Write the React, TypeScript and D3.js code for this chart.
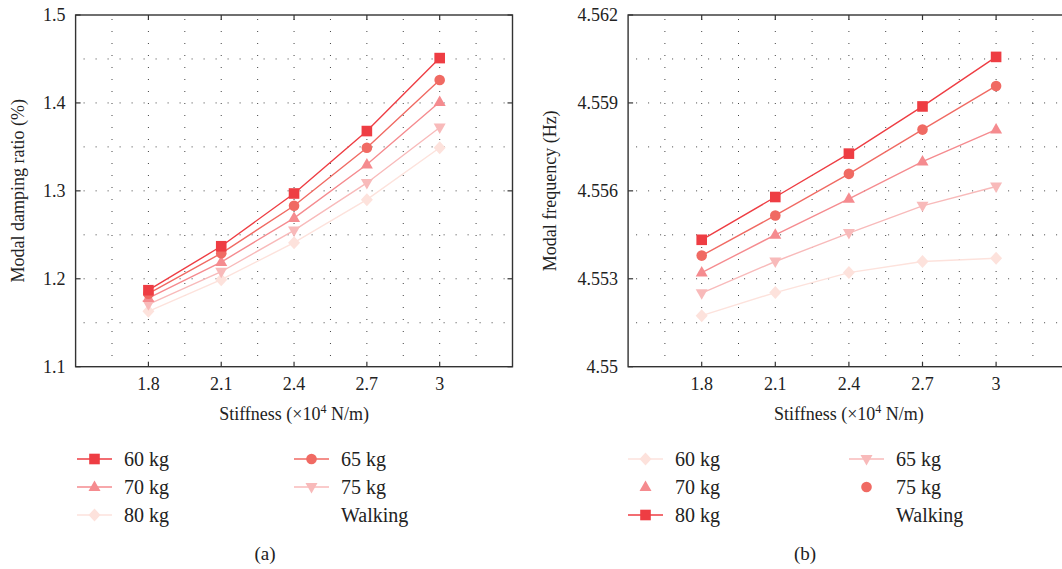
import React from "react";
import * as d3 from "d3";

const stiffness = [1.8, 2.1, 2.4, 2.7, 3];
const xTicks = [1.8, 2.1, 2.4, 2.7, 3];

// Panel (a): modal damping ratio (%)
const dampingTicks = [1.1, 1.2, 1.3, 1.4, 1.5];
const damping60 = [1.187, 1.237, 1.297, 1.368, 1.451];
const damping65 = [1.183, 1.229, 1.283, 1.349, 1.426];
const damping70 = [1.178, 1.219, 1.269, 1.33, 1.401];
const damping75 = [1.171, 1.208, 1.255, 1.309, 1.372];
const damping80 = [1.163, 1.199, 1.241, 1.29, 1.349];

// Panel (b): modal frequency (Hz)
const freqTicks = [4.55, 4.553, 4.556, 4.559, 4.562];
const freqTickLabels = ["4.55", "4.553", "4.556", "4.559", "4.562"];
const freqSquare = [4.55433, 4.55579, 4.55727, 4.55888, 4.56057];
const freqCircle = [4.55379, 4.55516, 4.55658, 4.55809, 4.55958];
const freqUp = [4.55321, 4.5545, 4.55573, 4.557, 4.55809];
const freqDown = [4.55251, 4.55359, 4.55456, 4.55549, 4.55615];
const freqDiamond = [4.55174, 4.55253, 4.55321, 4.55359, 4.5537];

const C_SQ = "#ee3d43";
const C_CI = "#f06a63";
const C_UP = "#f58b8f";
const C_DN = "#f8baba";
const C_DI = "#fde2dc";

type Shape = "square" | "circle" | "up" | "down" | "diamond";

const FONT = "'Liberation Serif', 'Times New Roman', serif";

function Marker({ shape, x, y, color }: { shape: Shape; x: number; y: number; color: string }) {
  const s = 5.3;
  if (shape === "square") return <rect x={x - s} y={y - s} width={2 * s} height={2 * s} fill={color} />;
  if (shape === "circle") return <circle cx={x} cy={y} r={5.3} fill={color} />;
  if (shape === "up")
    return <path d={`M${x},${y - 6.5}L${x + 6},${y + 4}L${x - 6},${y + 4}Z`} fill={color} />;
  if (shape === "down")
    return <path d={`M${x},${y + 6.5}L${x + 6},${y - 4}L${x - 6},${y - 4}Z`} fill={color} />;
  return <path d={`M${x},${y - 6.5}L${x + 6},${y}L${x},${y + 6.5}L${x - 6},${y}Z`} fill={color} />;
}

type Series = { values: number[]; shape: Shape; color: string };

function Panel({
  x0, x1, yDomain, yTicks, yTickLabels, series, yTitle, clipRight, titleOffset,
}: {
  x0: number; x1: number; yDomain: [number, number]; yTicks: number[]; yTickLabels: string[];
  series: Series[]; yTitle: string; clipRight: number; titleOffset: number;
}) {
  const top = 15, bottom = 366.7;
  const x = d3.scaleLinear().domain([1.5, 3.3]).range([x0, x1]);
  const y = d3.scaleLinear().domain(yDomain).range([bottom, top]);
  const line = d3.line<number>().x((_, i) => x(stiffness[i])).y((v) => y(v));
  const vGrid = d3.range(1.65, 3.3, 0.15);
  const step = (yDomain[1] - yDomain[0]) / 8;
  const hGrid = d3.range(1, 8).map((i) => yDomain[0] + i * step);
  const right = Math.min(x1, clipRight);
  return (
    <g>
      {vGrid.map((g, i) => (
        <line key={"v" + i} x1={x(g)} x2={x(g)} y1={top + 4} y2={bottom} stroke="#444" strokeWidth={1}
          strokeDasharray="1,11" />
      ))}
      {hGrid.map((g, i) => (
        <line key={"h" + i} x1={x0 + 8} x2={right} y1={y(g)} y2={y(g)} stroke="#444" strokeWidth={1}
          strokeDasharray="1,11" />
      ))}
      {series.map((s, i) => (
        <path key={"l" + i} d={line(s.values) || ""} fill="none" stroke={s.color} strokeWidth={1.4} />
      ))}
      {series.map((s, i) => (
        <g key={"m" + i}>
          {s.values.map((v, j) => (
            <Marker key={j} shape={s.shape} x={x(stiffness[j])} y={y(v)} color={s.color} />
          ))}
        </g>
      ))}
      <rect x={x0} y={top} width={x1 - x0} height={bottom - top} fill="none" stroke="#333" strokeWidth={1.4} />
      {xTicks.map((t) => (
        <g key={"xt" + t}>
          <line x1={x(t)} x2={x(t)} y1={bottom} y2={bottom - 5} stroke="#333" strokeWidth={1.2} />
          <line x1={x(t)} x2={x(t)} y1={top} y2={top + 5} stroke="#333" strokeWidth={1.2} />
          <text x={x(t)} y={bottom + 23} textAnchor="middle" fontSize={18} fill="#222">{String(t)}</text>
        </g>
      ))}
      {yTicks.map((t, i) => (
        <g key={"yt" + i}>
          <line x1={x0} x2={x0 + 5} y1={y(t)} y2={y(t)} stroke="#333" strokeWidth={1.2} />
          <line x1={x1} x2={x1 - 5} y1={y(t)} y2={y(t)} stroke="#333" strokeWidth={1.2} />
          <text x={x0 - 10} y={y(t) + 6} textAnchor="end" fontSize={18} fill="#222">{yTickLabels[i]}</text>
        </g>
      ))}
      <text x={x(2.4)} y={420} textAnchor="middle" fontSize={18} fill="#222">
        Stiffness (×10<tspan fontSize={12} dy={-7}>4</tspan><tspan dy={7}> N/m)</tspan>
      </text>
      <text transform={`translate(${x0 - titleOffset},${(top + bottom) / 2}) rotate(-90)`} textAnchor="middle"
        fontSize={18} fill="#222">{yTitle}</text>
    </g>
  );
}

type LegendItem = { label: string; shape?: Shape; color?: string; line: boolean };

function Legend({ cols, items }: { cols: [number, number]; items: LegendItem[] }) {
  const rows = [459, 487, 515];
  return (
    <g>
      {items.map((it, i) => {
        const col = i % 2;
        const row = Math.floor(i / 2);
        const lx = cols[col];
        const yy = rows[row];
        return (
          <g key={i}>
            {it.line && it.color && (
              <line x1={lx} x2={lx + 35} y1={yy} y2={yy} stroke={it.color} strokeWidth={1.6} />
            )}
            {it.shape && it.color && <Marker shape={it.shape} x={lx + 17.5} y={yy} color={it.color} />}
            <text x={lx + 47} y={yy + 7} fontSize={20} fill="#222">{it.label}</text>
          </g>
        );
      })}
    </g>
  );
}

export default function App() {
  const seriesA: Series[] = [
    { values: damping80, shape: "diamond", color: C_DI },
    { values: damping75, shape: "down", color: C_DN },
    { values: damping70, shape: "up", color: C_UP },
    { values: damping65, shape: "circle", color: C_CI },
    { values: damping60, shape: "square", color: C_SQ },
  ];
  const seriesB: Series[] = [
    { values: freqDiamond, shape: "diamond", color: C_DI },
    { values: freqDown, shape: "down", color: C_DN },
    { values: freqUp, shape: "up", color: C_UP },
    { values: freqCircle, shape: "circle", color: C_CI },
    { values: freqSquare, shape: "square", color: C_SQ },
  ];
  const legendA: LegendItem[] = [
    { label: "60 kg", shape: "square", color: C_SQ, line: true },
    { label: "65 kg", shape: "circle", color: C_CI, line: true },
    { label: "70 kg", shape: "up", color: C_UP, line: true },
    { label: "75 kg", shape: "down", color: C_DN, line: true },
    { label: "80 kg", shape: "diamond", color: C_DI, line: true },
    { label: "Walking", line: false },
  ];
  const legendB: LegendItem[] = [
    { label: "60 kg", shape: "diamond", color: C_DI, line: true },
    { label: "65 kg", shape: "down", color: C_DN, line: true },
    { label: "70 kg", shape: "up", color: C_UP, line: false },
    { label: "75 kg", shape: "circle", color: C_CI, line: false },
    { label: "80 kg", shape: "square", color: C_SQ, line: true },
    { label: "Walking", line: false },
  ];
  return (
    <div style={{ position: "absolute", left: 0, top: 0 }}>
      <svg width={1062} height={569} style={{ display: "block", background: "#fff" }} fontFamily={FONT}>
        <Panel x0={75.6} x1={512.5} yDomain={[1.1, 1.5]} yTicks={dampingTicks}
          yTickLabels={dampingTicks.map((t) => String(t))} series={seriesA}
          yTitle="Modal damping ratio (%)" clipRight={512.5} titleOffset={52} />
        <Panel x0={628.1} x1={1069.7} yDomain={[4.55, 4.562]} yTicks={freqTicks}
          yTickLabels={freqTickLabels} series={seriesB}
          yTitle="Modal frequency (Hz)" clipRight={1062} titleOffset={72} />
        <Legend cols={[77, 294]} items={legendA} />
        <Legend cols={[628, 849]} items={legendB} />
        <text x={265} y={560} textAnchor="middle" fontSize={19} fill="#222">(a)</text>
        <text x={805} y={560} textAnchor="middle" fontSize={19} fill="#222">(b)</text>
      </svg>
    </div>
  );
}
